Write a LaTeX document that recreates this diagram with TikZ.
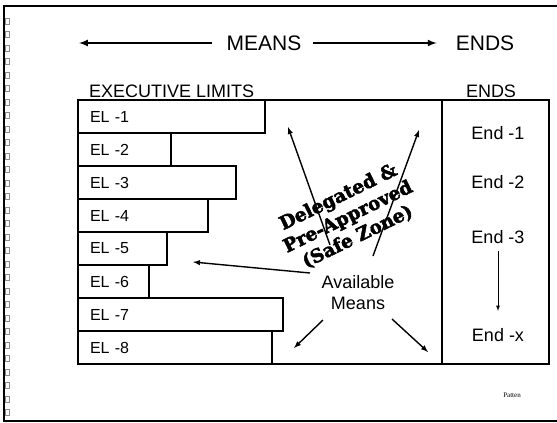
\documentclass[tikz,border=0pt]{standalone}
\usepackage{fontspec}
\setmainfont{Liberation Sans}
\newfontfamily\slabfont{DejaVu Serif Bold}[FakeBold=2.5]
\newfontfamily\smallserif{Liberation Serif}
\usetikzlibrary{arrows,positioning}
\newcommand{\fsz}[1]{\fontsize{#1}{#1}\selectfont}

\begin{document}
\begin{tikzpicture}[x=1pt,y=-1pt]

\tikzset{
	mainbox/.style={
		draw,
		rectangle,
		line width=2.2pt,
		minimum height=264pt,
		anchor=north west,
		inner sep=0pt,
		outer sep=0pt},
	elbar/.style={
		draw,
		rectangle,
		line width=1.8pt,
		minimum height=33pt,
		inner xsep=12pt,
		inner ysep=0pt,
		outer sep=0pt,
		align=left,
		anchor=north west,
		font=\fsz{16}},
	hdr/.style={
		inner sep=3.33pt,
		font=\fsz{21}},
	sub/.style={
		inner sep=0pt,
		font=\fsz{18}},
	endtxt/.style={
		font=\fsz{18}},
	bigarr/.style={
		-latex,
		line width=2pt},
	ptr/.style={
		-latex,
		line width=1.4pt},
	thinptr/.style={
		-latex,
		line width=0.8pt}
}

\useasboundingbox (0,0) rectangle (557,423);

% page edge
\draw[line width=1.5pt] (557,6) -- (4,6) -- (4,421) -- (557,421);
\foreach \y in {18,31.5,...,410}
	\draw[black!45,line width=0.4pt] (5,\y) rectangle (9,\y+6);

% header
\node[hdr] (means) at (264,43) {MEANS};
\node[hdr] (endsT) at (485,43) {ENDS};
\coordinate (lefttip) at (79,43);
\draw[bigarr,shorten <=10.7pt] (means.west) -- (lefttip);
\draw[bigarr,shorten <=7.7pt,shorten >=15.7pt] (means.east) -- (endsT.west);

\node[sub,anchor=west] (exl) at (89,91) {EXECUTIVE LIMITS};
\node[sub] (endsH) at (491,91) {ENDS};

% boxes
\node[mainbox,minimum width=364pt] (meanbox) at (78,100) {};
\node[mainbox,minimum width=107pt,right=0pt of meanbox.north east,anchor=north west] (endbox) {};

% executive limits
\node[elbar,text width=163pt] (el1) at (78,100) {EL -1};
\node[elbar,text width=69pt,below=0pt of el1.south west,anchor=north west] (el2) {EL -2};
\node[elbar,text width=134pt,below=0pt of el2.south west,anchor=north west] (el3) {EL -3};
\node[elbar,text width=106pt,below=0pt of el3.south west,anchor=north west] (el4) {EL -4};
\node[elbar,text width=65pt,below=0pt of el4.south west,anchor=north west] (el5) {EL -5};
\node[elbar,text width=47pt,below=0pt of el5.south west,anchor=north west] (el6) {EL -6};
\node[elbar,text width=181pt,below=0pt of el6.south west,anchor=north west] (el7) {EL -7};
\node[elbar,text width=170pt,below=0pt of el7.south west,anchor=north west] (el8) {EL -8};

% safe zone
\node[rotate=26,align=center,inner sep=0pt,font=\slabfont\fontsize{18.5}{22}\selectfont] (safe) at (348,217) {Delegated \&\\Pre-Approved\\(Safe Zone)};

\node[align=center,font=\fontsize{18}{21}\selectfont] (avail) at (358,293) {Available\\Means};

\coordinate (t1) at (330,245);
\coordinate (h1) at (288,127);
\coordinate (t2) at (373,256);
\coordinate (h2) at (419,130);
\coordinate (t3) at (310,273);
\coordinate (h3) at (193,262);
\coordinate (t4) at (323,320);
\coordinate (h4) at (294,348);
\coordinate (t5) at (392,319);
\coordinate (h5) at (428,352);
\draw[ptr] (t1) -- (h1);
\draw[ptr] (t2) -- (h2);
\draw[ptr] (t3) -- (h3);
\draw[ptr] (t4) -- (h4);
\draw[ptr] (t5) -- (h5);

% ends
\node[endtxt] (e1) at (498,133) {End -1};
\node[endtxt] (e2) at (498,182) {End -2};
\node[endtxt] (e3) at (498,237) {End -3};
\node[endtxt] (ex) at (498,335) {End -x};
\draw[thinptr,shorten <=4pt,shorten >=14pt] (e3) -- (ex);

\node[font=\smallserif\fsz{7}] (patten) at (512,395) {Patten};

\end{tikzpicture}
\end{document}
